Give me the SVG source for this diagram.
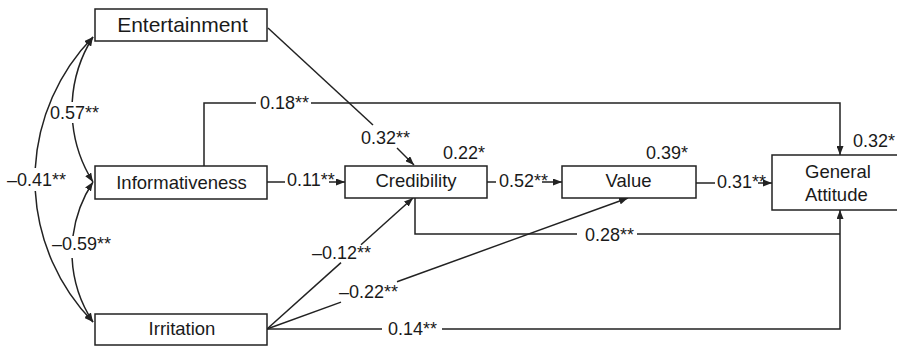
<svg xmlns="http://www.w3.org/2000/svg" width="897" height="346" viewBox="0 0 897 346">
<style>
.box{fill:#fff;stroke:#222;stroke-width:1.5}
.nt{font-family:"Liberation Sans",Arial,sans-serif;font-size:18.5px;fill:#1a1a1a;text-anchor:middle}
.lb{font-family:"Liberation Sans",Arial,sans-serif;font-size:18px;fill:#1a1a1a}
.c{fill:none;stroke:#222;stroke-width:1.5}
</style>
<defs>
<marker id="ah" viewBox="0 0 9 7" refX="9" refY="3.5" markerWidth="9" markerHeight="7" markerUnits="userSpaceOnUse" orient="auto-start-reverse">
<path d="M0,0 L9,3.5 L0,7 z" fill="#222"/>
</marker>
</defs>
<g id="connectors">
<path class="c" d="M93,37 A204,204 0 0 0 35.3,168" marker-start="url(#ah)"/>
<path class="c" d="M35.3,191 A204,204 0 0 0 93,322" marker-end="url(#ah)"/>
<path class="c" d="M93,37 A135.6,135.6 0 0 0 72.2,102" marker-start="url(#ah)"/>
<path class="c" d="M72.7,123 A135.6,135.6 0 0 0 93,182" marker-end="url(#ah)"/>
<path class="c" d="M93,182 A127.2,127.2 0 0 0 73,236" marker-start="url(#ah)"/>
<path class="c" d="M72.1,258 A127.2,127.2 0 0 0 93,322" marker-end="url(#ah)"/>
<path class="c" d="M268,28 L373,125"/>
<path class="c" d="M397,148 L414,165" marker-end="url(#ah)"/>
<path class="c" d="M204,166 V103 H256"/>
<path class="c" d="M311,103 H840 V155" marker-end="url(#ah)"/>
<path class="c" d="M267,182 H285"/>
<path class="c" d="M329,182 H345" marker-end="url(#ah)"/>
<path class="c" d="M487,182 H496"/>
<path class="c" d="M542,182 H562" marker-end="url(#ah)"/>
<path class="c" d="M696,183 H715"/>
<path class="c" d="M758,183 H772" marker-end="url(#ah)"/>
<path class="c" d="M267,329 L341,262.6"/>
<path class="c" d="M361,244.7 L413,198" marker-end="url(#ah)"/>
<path class="c" d="M267,329 L341,302.1"/>
<path class="c" d="M397,281.8 L628,198" marker-end="url(#ah)"/>
<path class="c" d="M267,329 H382"/>
<path class="c" d="M442,329 H840 V210" marker-end="url(#ah)"/>
<path class="c" d="M415,198 V234 H577"/>
<path class="c" d="M637,234 H840"/>
</g>
<g id="labels">
<text class="lb" x="7" y="186">–0.41**</text>
<text class="lb" x="50" y="119">0.57**</text>
<text class="lb" x="52" y="250">–0.59**</text>
<text class="lb" x="260" y="109">0.18**</text>
<text class="lb" x="361" y="144">0.32**</text>
<text class="lb" x="443" y="159">0.22*</text>
<text class="lb" x="287" y="186">0.11**</text>
<text class="lb" x="499" y="187">0.52**</text>
<text class="lb" x="646" y="159">0.39*</text>
<text class="lb" x="717" y="188">0.31**</text>
<text class="lb" x="853" y="147">0.32*</text>
<text class="lb" x="312" y="259">–0.12**</text>
<text class="lb" x="339" y="298">–0.22**</text>
<text class="lb" x="585" y="241">0.28**</text>
<text class="lb" x="388" y="335">0.14**</text>
</g>
<g id="entertainment">
<rect class="box" x="95" y="9" width="172" height="32"/>
<text class="nt" x="182.5" y="32" style="font-size:21px">Entertainment</text>
</g>
<g id="informativeness">
<rect class="box" x="95" y="166" width="172" height="33"/>
<text class="nt" x="181.5" y="189">Informativeness</text>
</g>
<g id="irritation">
<rect class="box" x="95" y="314" width="172" height="31"/>
<text class="nt" x="182" y="335">Irritation</text>
</g>
<g id="credibility">
<rect class="box" x="345" y="166" width="142" height="32"/>
<text class="nt" x="416" y="187">Credibility</text>
</g>
<g id="value">
<rect class="box" x="562" y="166" width="134" height="32"/>
<text class="nt" x="628.5" y="187">Value</text>
</g>
<g id="general-attitude">
<rect class="box" x="772" y="155" width="150" height="55"/>
<text class="nt" x="805" y="178" style="text-anchor:start">General</text>
<text class="nt" x="805" y="201" style="text-anchor:start">Attitude</text>
</g>
</svg>
